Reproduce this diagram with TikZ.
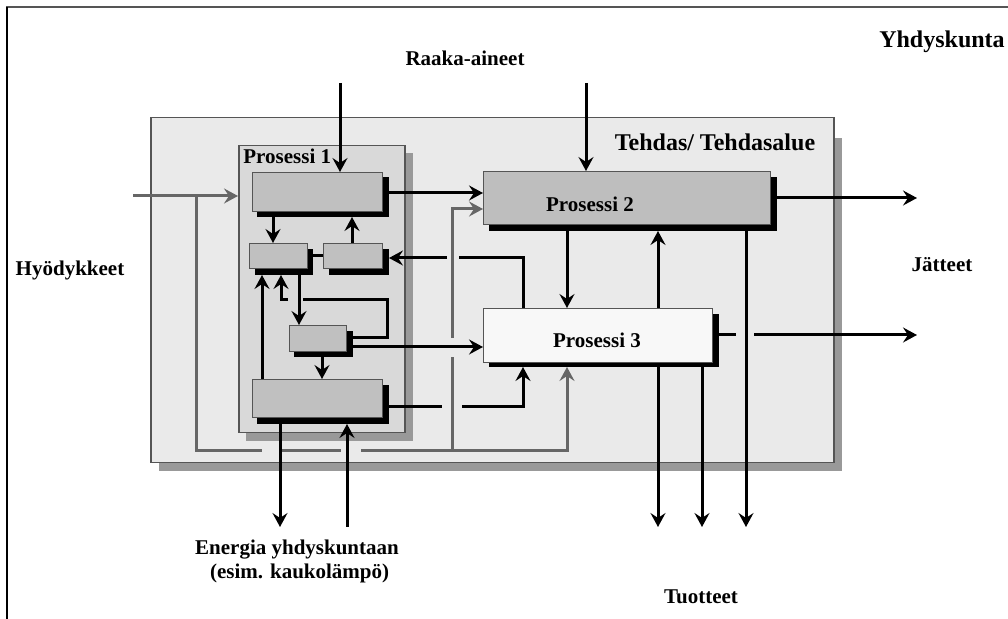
\documentclass[tikz,border=0pt]{standalone}
\usepackage{fontspec}
\setmainfont{Liberation Serif}
\usetikzlibrary{arrows.meta}
\definecolor{tehdasfill}{HTML}{EAEAEA}
\definecolor{p1fill}{HTML}{D9D9D9}
\definecolor{boxfill}{HTML}{C0C0C0}
\definecolor{ptwofill}{HTML}{BEBEBE}
\definecolor{pthreefill}{HTML}{F8F8F8}
\definecolor{shadowgray}{HTML}{999999}
\definecolor{edgegray}{HTML}{555555}
\definecolor{flowgray}{HTML}{666666}
\newcommand\mkbox[6]{% name, x1, y1, x2, y2, style
  \node[#6, anchor=north west, minimum width={(#4-#2)*0.5pt}, minimum height={(#5-#3)*0.5pt}] (#1) at (#2,#3) {};}
\tikzset{
  lbl/.style={font=\bfseries\fontsize{10.5}{12}\selectfont, inner sep=0pt},
  biglbl/.style={font=\bfseries\fontsize{12}{14}\selectfont, inner sep=0pt},
  ibox/.style={draw=edgegray, line width=0.5pt, fill=boxfill, inner sep=0pt},
  flow/.style={line width=1.5pt, black},
  gflow/.style={line width=1.5pt, flowgray},
  arr/.style={-{Stealth[length=7pt,width=7.5pt,inset=2.5pt]}},
}
\begin{document}
\begin{tikzpicture}[x=0.5pt,y=-0.5pt]
\useasboundingbox (0,0) rectangle (1008,619);
% outer frame (Yhdyskunta)
\draw[edgegray, line width=1pt] (6,7) -- (1008,7);
\draw[black, line width=1pt] (7,7) -- (7,619);
% Tehdas area
\fill[shadowgray] (159,138) rectangle (842,471);
\mkbox{tehdas}{150}{117}{833}{462}{draw=edgegray, line width=0.75pt, fill=tehdasfill, inner sep=0pt}
% Prosessi 1 area
\fill[shadowgray] (246,153) rectangle (413,441);
\mkbox{p1}{238}{145}{404}{432}{draw=edgegray, line width=0.75pt, fill=p1fill, inner sep=0pt}
% inner boxes with black shadows
\fill[black] (257,177) rectangle (389,217);
\mkbox{b1}{252}{172}{382}{211}{ibox}
\fill[black] (255,249) rectangle (313,275);
\mkbox{b2}{249}{243}{307}{268}{ibox}
\fill[black] (329,249) rectangle (389,275);
\mkbox{b3}{323}{243}{382}{268}{ibox}
\fill[black] (294,331) rectangle (353,357);
\mkbox{b4}{289}{325}{346}{351}{ibox}
\fill[black] (257,385) rectangle (389,424);
\mkbox{b5}{252}{379}{382}{417}{ibox}
% Prosessi 2 and 3
\fill[black] (489,177) rectangle (777,231);
\mkbox{p2}{483}{171}{770}{224}{ibox, fill=ptwofill}
\fill[black] (489,314) rectangle (719,367);
\mkbox{p3}{483}{308}{712}{362}{ibox, fill=pthreefill}
% labels
\node[lbl, anchor=west] (p1lbl) at (243,156) {Prosessi 1};
\node[lbl] (p2lbl) at (590,204) {Prosessi 2};
\node[lbl] (p3lbl) at (597,340) {Prosessi 3};
\node[biglbl] (tehdaslbl) at (715,142) {Tehdas/ Tehdasalue};
\node[biglbl] (yhd) at (942,42) {Yhdyskunta};
\node[lbl] (raaka) at (465,58) {Raaka-aineet};
\node[lbl] (hyod) at (70,270) {Hyödykkeet};
\node[lbl] (jatteet) at (942,265) {Jätteet};
\node[lbl, align=center] (energia) at (297,561) {Energia yhdyskuntaan\\[0pt] \ (esim. kaukolämpö)};
\node[lbl] (tuotteet) at (701,597) {Tuotteet};
% free ends
\coordinate (rin1) at (340,83);
\coordinate (rin2) at (586,83);
\coordinate (hin) at (133,196);
\coordinate (eout) at (280,527);
\coordinate (ein) at (347,527);
\coordinate (jout1) at (917,198);
\coordinate (jout2) at (917,335);
% gray utility flows
\draw[gflow, arr] (hin) -- (p1.west |- hin);
\draw[gflow] (196,196) -- (196,451) -- (262,451);
\draw[gflow] (282,451) -- (341,451);
\draw[gflow, arr] (361,451) -- (567,451) -- (567,367);
\draw[gflow] (452,451) -- (452,357);
\draw[gflow, arr] (452,338) -- (452,209) -- (483,209);
% black flows
\draw[flow, arr] (rin1) -- (340,172);
\draw[flow, arr] (rin2) -- (586,171);
\draw[flow, arr] (389,193) -- (483,193);
\draw[flow, arr] (273,217) -- (273,243);
\draw[flow, arr] (352,243) -- (352,217);
\draw[flow] (313,256) -- (323,256);
\draw[flow] (523,308) -- (523,258) -- (459,258);
\draw[flow, arr] (447,258) -- (389,258);
\draw[flow, arr] (262,379) -- (262,275);
\draw[flow] (353,338) -- (387,338) -- (387,300) -- (303,300);
\draw[flow, arr] (288,300) -- (281,300) -- (281,275);
\draw[flow, arr] (299,275) -- (299,325);
\draw[flow, arr] (322,357) -- (322,379);
\draw[flow, arr] (353,347) -- (483,347);
\draw[flow] (389,407) -- (442,407);
\draw[flow, arr] (462,407) -- (523,407) -- (523,367);
\draw[flow, arr] (280,424) -- (eout);
\draw[flow, arr] (ein) -- (347,424);
\draw[flow, arr] (567,231) -- (567,308);
\draw[flow, arr] (658,308) -- (658,231);
\draw[flow, arr] (658,367) -- (658,527);
\draw[flow, arr] (702,367) -- (702,527);
\draw[flow, arr] (746,231) -- (746,527);
\draw[flow, arr] (777,198) -- (jout1);
\draw[flow] (719,335) -- (736,335);
\draw[flow, arr] (754,335) -- (jout2);
\end{tikzpicture}
\end{document}
